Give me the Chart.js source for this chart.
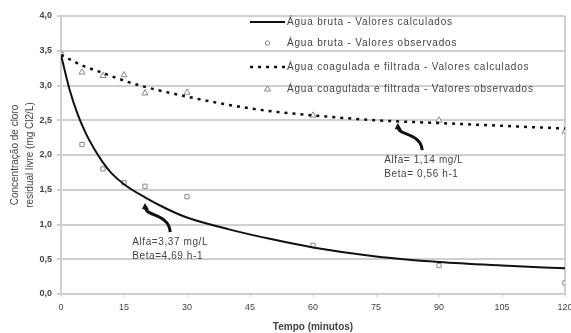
<!DOCTYPE html>
<html>
<head>
<meta charset="utf-8">
<script src="https://cdn.jsdelivr.net/npm/chart.js@4/dist/chart.umd.min.js"></script>
<style>
    html, body { margin: 0; padding: 0; background: #fff; }
    #box { width: 571px; height: 333px; }
</style>
</head>
<body>
<div id="box"><canvas id="chart"></canvas></div>
<script>
// ============================
// DATA
// ============================

const seriesNames = [
    "Água bruta - Valores calculados",
    "Água bruta - Valores observados",
    "Água coagulada e filtrada - Valores calculados",
    "Água coagulada e filtrada - Valores observados"
];

// calculated curve (agua bruta)
const brutaCalcTime = [0, 2, 4, 6, 8, 10, 12, 15, 20, 25, 30, 40, 50, 60, 75, 90, 105, 120];
const brutaCalc = [3.44, 2.95, 2.58, 2.30, 2.08, 1.89, 1.74, 1.58, 1.39, 1.23, 1.10, 0.93, 0.79, 0.67, 0.54, 0.46, 0.41, 0.37];

// calculated curve (agua coagulada e filtrada)
const coagCalcTime = [0, 5, 10, 15, 20, 30, 40, 50, 60, 75, 90, 105, 120];
const coagCalc = [3.44, 3.29, 3.18, 3.07, 2.98, 2.84, 2.72, 2.63, 2.57, 2.50, 2.46, 2.42, 2.38];

// observed values
const obsTime = [0, 5, 10, 15, 20, 30, 60, 90, 120];
const brutaObs = [3.45, 2.15, 1.80, 1.60, 1.55, 1.40, 0.70, 0.41, 0.16];
const coagObs = [3.45, 3.19, 3.14, 3.15, 2.89, 2.90, 2.57, 2.50, 2.34];

const xTicks = [0, 15, 30, 45, 60, 75, 90, 105, 120];
const yTicks = [0, 0.5, 1, 1.5, 2, 2.5, 3, 3.5, 4];

const notes = [
    { lines: ["Alfa=3,37 mg/L", "Beta=4,69 h-1"], tip: [20, 1.31], tail: [26, 0.89] },
    { lines: ["Alfa= 1,14 mg/L", "Beta= 0,56 h-1"], tip: [80.2, 2.46], tail: [86, 2.07] }
];

function pairs(xs, ys) {
    return xs.map((x, i) => ({ x: x, y: ys[i] }));
}

const FONT = "'Liberation Sans', Arial, sans-serif";
const GRID = "#cfcfcf";
const TEXT = "#444";

// ============================
// LEGEND + NOTES (drawn on canvas)
// ============================

const extrasPlugin = {
    id: "extras",
    afterDatasetsDraw(chart) {
        const ctx = chart.ctx;
        const area = chart.chartArea;
        const xs = chart.scales.x;
        const ys = chart.scales.y;

        ctx.save();

        // legend inside plot area
        const symL = area.left + 189;
        const symR = area.left + 224;
        const textX = area.left + 226;
        const rowY = [area.top + 6, area.top + 27, area.top + 51, area.top + 73];

        ctx.font = "10px " + FONT;
        ctx.letterSpacing = "0.8px";
        ctx.fillStyle = TEXT;
        ctx.textBaseline = "middle";
        ctx.textAlign = "left";

        chart.data.datasets.forEach((ds, i) => {
            const y = rowY[i];
            ctx.fillText(ds.label, textX, y);
            const mid = (symL + symR) / 2;
            if (ds.showLine) {
                ctx.strokeStyle = ds.borderColor;
                ctx.lineWidth = ds.borderWidth;
                ctx.setLineDash(ds.borderDash || []);
                ctx.beginPath();
                ctx.moveTo(symL, y);
                ctx.lineTo(symR, y);
                ctx.stroke();
                ctx.setLineDash([]);
            } else {
                ctx.strokeStyle = ds.borderColor;
                ctx.lineWidth = 1;
                ctx.beginPath();
                if (ds.pointStyle === "triangle") {
                    ctx.moveTo(mid, y - 3);
                    ctx.lineTo(mid + 3, y + 2);
                    ctx.lineTo(mid - 3, y + 2);
                    ctx.closePath();
                } else {
                    ctx.arc(mid, y, 2.2, 0, Math.PI * 2);
                }
                ctx.stroke();
            }
        });

        // notes with curved arrows
        notes.forEach(n => {
            const tx = xs.getPixelForValue(n.tip[0]);
            const ty = ys.getPixelForValue(n.tip[1]);
            const ex = xs.getPixelForValue(n.tail[0]);
            const ey = ys.getPixelForValue(n.tail[1]);
            const dy = ey - ty;

            ctx.strokeStyle = "#111";
            ctx.lineWidth = 3;
            ctx.beginPath();
            ctx.moveTo(tx + 1, ty + 4);
            ctx.bezierCurveTo(tx - 2, ty + dy * 0.45, ex - 1, ey - dy * 0.65, ex, ey);
            ctx.stroke();

            ctx.fillStyle = "#111";
            ctx.beginPath();
            ctx.moveTo(tx, ty);
            ctx.lineTo(tx + 4, ty + 7);
            ctx.lineTo(tx - 3, ty + 6);
            ctx.closePath();
            ctx.fill();

            ctx.fillStyle = TEXT;
            ctx.font = "10px " + FONT;
            ctx.letterSpacing = "0.6px";
            ctx.textAlign = "left";
            const lx = ex - 38;
            ctx.fillText(n.lines[0], lx, ey + 10);
            ctx.fillText(n.lines[1], lx, ey + 24);
        });

        ctx.restore();
    }
};

// ============================
// CHART
// ============================

new Chart(document.getElementById("chart"), {

    type: "scatter",

    data: {
        datasets: [
            {
                label: seriesNames[0],
                data: pairs(brutaCalcTime, brutaCalc),
                showLine: true,
                borderColor: "#111",
                borderWidth: 2,
                pointRadius: 0,
                cubicInterpolationMode: "monotone",
                order: 1
            },
            {
                label: seriesNames[1],
                data: pairs(obsTime, brutaObs),
                showLine: false,
                pointStyle: "rect",
                pointRadius: 3,
                borderColor: "#888",
                backgroundColor: "#fff",
                borderWidth: 1,
                order: 2
            },
            {
                label: seriesNames[2],
                data: pairs(coagCalcTime, coagCalc),
                showLine: true,
                borderColor: "#111",
                borderWidth: 2.5,
                borderDash: [3, 5],
                pointRadius: 0,
                cubicInterpolationMode: "monotone",
                order: 1
            },
            {
                label: seriesNames[3],
                data: pairs(obsTime, coagObs),
                showLine: false,
                pointStyle: "triangle",
                pointRadius: 3.5,
                borderColor: "#888",
                backgroundColor: "#fff",
                borderWidth: 1,
                order: 2
            }
        ]
    },

    options: {
        responsive: true,
        maintainAspectRatio: false,
        animation: false,
        layout: {
            padding: { top: 16, right: 6, left: 8, bottom: 0 }
        },
        plugins: {
            legend: { display: false },
            tooltip: { enabled: false }
        },
        scales: {
            x: {
                type: "linear",
                min: 0,
                max: 120,
                afterBuildTicks: s => { s.ticks = xTicks.map(v => ({ value: v })); },
                afterFit: s => { s.height = 39; s.paddingRight = 0; s.paddingLeft = 0; },
                title: {
                    display: true,
                    text: "Tempo (minutos)",
                    color: TEXT,
                    font: { family: FONT, size: 10, weight: "bold" },
                    padding: { top: 4, bottom: 0 }
                },
                ticks: {
                    color: TEXT,
                    font: { family: FONT, size: 9 },
                    padding: 5,
                    maxRotation: 0
                },
                grid: {
                    drawOnChartArea: false,
                    color: GRID,
                    lineWidth: 1,
                    tickLength: 3
                },
                border: { color: GRID, width: 2 }
            },
            y: {
                min: 0,
                max: 4,
                afterBuildTicks: s => { s.ticks = yTicks.map(v => ({ value: v })); },
                afterFit: s => { s.width = 53; },
                title: {
                    display: true,
                    text: ["Concentração de cloro", "residual livre (mg Cl2/L)"],
                    color: TEXT,
                    font: { family: FONT, size: 10, lineHeight: 1.5 },
                    padding: { top: 0, bottom: 4 }
                },
                ticks: {
                    color: TEXT,
                    font: { family: FONT, size: 9, weight: "bold" },
                    padding: 5,
                    callback: v => v.toFixed(1).replace(".", ",")
                },
                grid: {
                    color: GRID,
                    lineWidth: 2,
                    tickLength: 4
                },
                border: { color: GRID, width: 2 }
            }
        }
    },

    plugins: [extrasPlugin, {
        id: "rightBorder",
        beforeDatasetsDraw(chart) {
            const a = chart.chartArea;
            const ctx = chart.ctx;
            ctx.save();
            ctx.strokeStyle = GRID;
            ctx.lineWidth = 2;
            ctx.beginPath();
            ctx.moveTo(a.right, a.top);
            ctx.lineTo(a.right, a.bottom);
            ctx.stroke();
            ctx.restore();
        }
    }]

});
</script>
</body>
</html>
